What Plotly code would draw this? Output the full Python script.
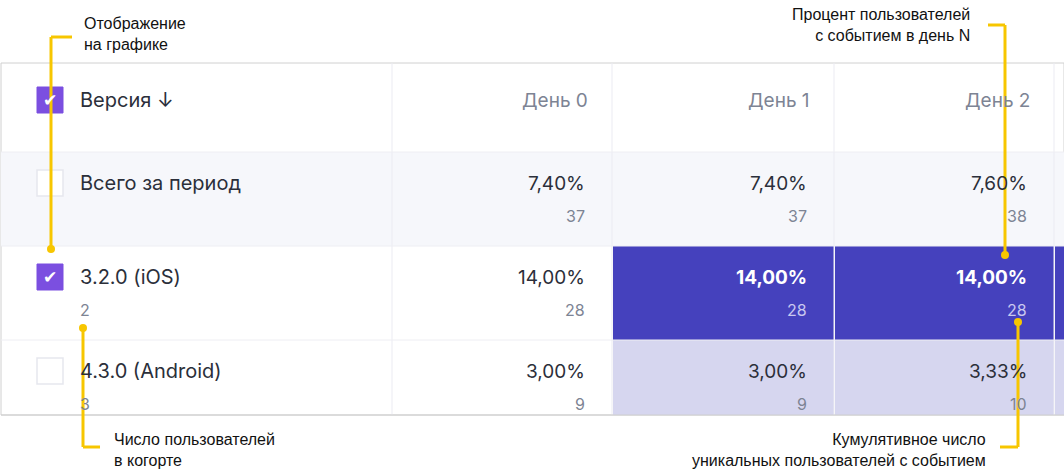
import plotly.graph_objects as go

headers = ["День 0", "День 1", "День 2"]
rows = ["Всего за период", "3.2.0 (iOS)", "4.3.0 (Android)"]
cohort = ["", "2", "3"]
checked = [False, True, False]
pct = [["7,40%", "7,40%", "7,60%"], ["14,00%", "14,00%", "14,00%"], ["3,00%", "3,00%", "3,33%"]]
cnt = [["37", "37", "38"], ["28", "28", "28"], ["9", "9", "10"]]
callouts = ["Отображение<br>на графике", "Процент пользователей<br>с событием в день N",
            "Число пользователей<br>в когорте", "Кумулятивное число<br>уникальных пользователей с событием"]

W, H = 1064, 475
FONT = "Inter, Noto Sans, sans-serif"
col_edges = [0, 392, 612, 834, 1054, 1064]
row_edges = [63, 152, 246, 340, 415]
DARK, LIGHT, YEL = "#4541bd", "#d6d6ef", "#f7c600"
cell_bg = {(1, 1): DARK, (1, 2): DARK, (1, 3): DARK, (2, 1): LIGHT, (2, 2): LIGHT, (2, 3): LIGHT}

shapes, ann = [], []
def rect(x0, y0, x1, y1, fill, line=None, lw=0):
    shapes.append(dict(type="rect", x0=x0, y0=y0, x1=x1, y1=y1, fillcolor=fill,
                       line=dict(color=line or fill, width=lw), layer="below"))
def txt(x, y, s, size, color, anchor="left", bold=False):
    ann.append(dict(x=x, y=y, text=f"<b>{s}</b>" if bold else s, showarrow=False, xanchor=anchor,
                    yanchor="middle", font=dict(size=size, color=color, family=FONT)))

rect(1, 63, 1064, 415, "white", "#d0d0d0", 1)
rect(1, 152, 1064, 246, "#f6f7fb")
for (ri, ci), c in cell_bg.items():
    rect(col_edges[ci + 1] + 1, row_edges[ri + 1], col_edges[ci + 2], row_edges[ri + 2], c)
for x in col_edges[1:5]:
    shapes.append(dict(type="line", x0=x, x1=x, y0=63, y1=415, line=dict(color="#ebebf2", width=1)))
for y in row_edges[1:4]:
    shapes.append(dict(type="line", x0=1, x1=1064, y0=y, y1=y, line=dict(color="#eeeef3", width=1)))
shapes.append(dict(type="line", x0=1, x1=1064, y0=415, y1=415, line=dict(color="#cfcfcf", width=1)))

def checkbox(yc):
    rect(37, yc - 13, 63, yc + 13, "#7b4fe0", "#7b4fe0", 1)
    txt(50, yc, "✔", 17, "white", "center")

checkbox(100)
txt(78, 100, "Версия ↓", 20, "#2b2f3a")
for i, h in enumerate(headers):
    txt(col_edges[i + 2] - 22, 100, h, 19, "#7d8494", "right")

for r, name in enumerate(rows):
    ytop = row_edges[r + 1] + 31
    if checked[r]:
        checkbox(ytop)
    else:
        rect(37, ytop - 13, 63, ytop + 13, "white", "#e6e7ee", 1.5)
    txt(78, ytop, name, 20, "#2b2f3a")
    if cohort[r]:
        txt(78, ytop + 33, cohort[r], 16, "#7d8494")
    for c in range(3):
        dark = cell_bg.get((r, c)) == DARK
        xr = col_edges[c + 2] - 25
        txt(xr, ytop, pct[r][c], 19, "white" if dark else "#2b2f3a", "right", dark)
        txt(xr, ytop + 33, cnt[r][c], 16, "#c9c8f0" if dark else "#7d8494", "right")

def ln(pts):
    for (a, b), (c, d) in zip(pts, pts[1:]):
        shapes.append(dict(type="line", x0=a, y0=b, x1=c, y1=d, line=dict(color=YEL, width=3), layer="above"))
def dot(x, y):
    shapes.append(dict(type="circle", x0=x - 4, x1=x + 4, y0=y - 4, y1=y + 4, fillcolor=YEL,
                       line=dict(color=YEL, width=0), layer="above"))
ln([(72, 37), (51, 37), (51, 249)]); dot(51, 249)
ln([(988, 25), (1005, 25), (1005, 255)]); dot(1005, 255)
ln([(83, 328), (83, 447), (100, 447)]); dot(83, 328)
ln([(1018, 322), (1018, 447), (1000, 447)]); dot(1018, 322)
for s, x, y, a in [(callouts[0], 82, 34, "left"), (callouts[1], 972, 25, "right"),
                   (callouts[2], 112, 450, "left"), (callouts[3], 988, 450, "right")]:
    ann.append(dict(x=x, y=y, text=s, showarrow=False, xanchor=a, yanchor="middle", align=a,
                    font=dict(size=16, color="#111", family="Arial, Liberation Sans")))

fig = go.Figure()
fig.update_layout(width=W, height=H, margin=dict(l=0, r=0, t=0, b=0), plot_bgcolor="white",
                  paper_bgcolor="white", shapes=shapes, annotations=ann, showlegend=False,
                  xaxis=dict(range=[0, W], visible=False, fixedrange=True),
                  yaxis=dict(range=[H, 0], visible=False, fixedrange=True))
fig.write_html("out.html", config={"displayModeBar": False},
               post_script="document.body.style.margin='0';document.body.style.overflow='hidden';")
